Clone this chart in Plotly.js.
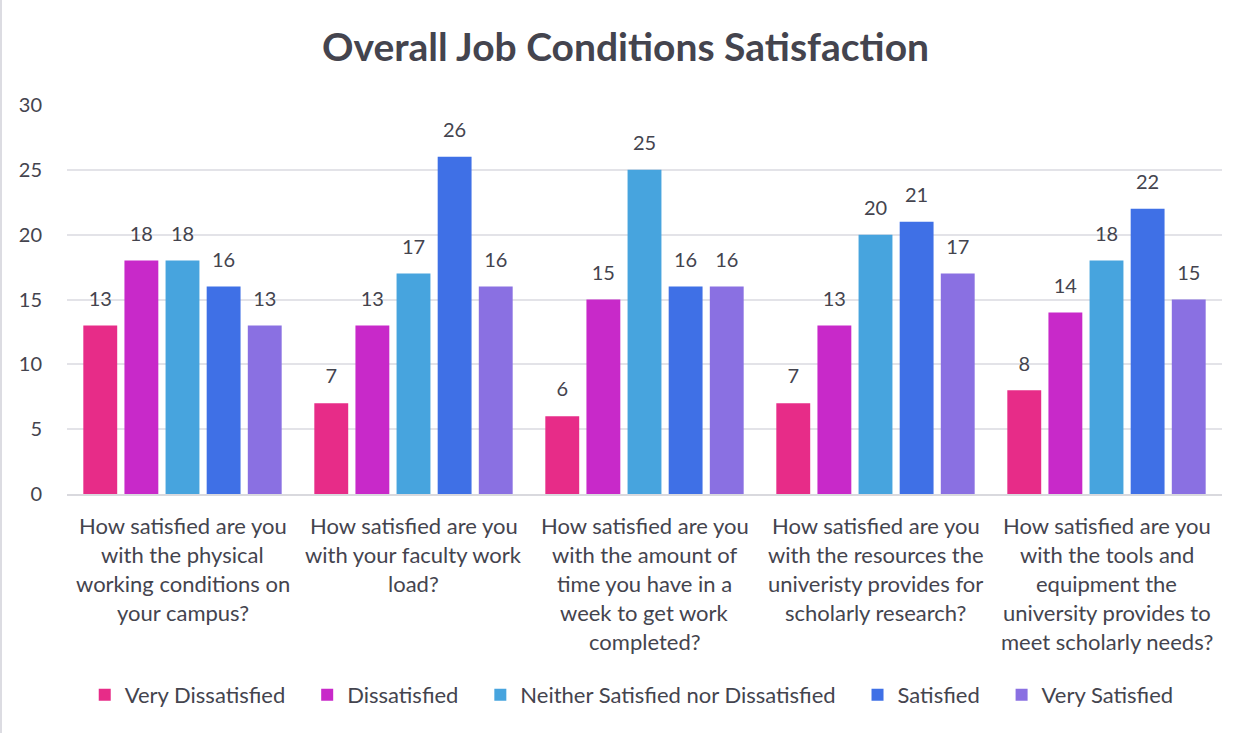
<!DOCTYPE html>
<html>
<head>
<meta charset="utf-8">
<script src="https://cdn.plot.ly/plotly-3.0.1.min.js"></script>
<style>
  html, body { margin: 0; padding: 0; background: #fff; }
  #chart { width: 1247px; height: 733px; box-sizing: border-box; border: 2px solid #dcdce2; border-top: none; }
</style>
</head>
<body>
<div id="chart"></div>
<script>
// ---- data ----
const categories = ["Q1", "Q2", "Q3", "Q4", "Q5"];
const categoryLabels = [
  ["How satisfied are you", "with the physical", "working conditions on", "your campus?"],
  ["How satisfied are you", "with your faculty work", "load?"],
  ["How satisfied are you", "with the amount of", "time you have in a", "week to get work", "completed?"],
  ["How satisfied are you", "with the resources the", "univeristy provides for", "scholarly research?"],
  ["How satisfied are you", "with the tools and", "equipment the", "university provides to", "meet scholarly needs?"]
];
const seriesNames = ["Very Dissatisfied", "Dissatisfied", "Neither Satisfied nor Dissatisfied", "Satisfied", "Very Satisfied"];
const veryDissatisfied = [13, 7, 6, 7, 8];
const dissatisfied     = [18, 13, 15, 13, 14];
const neither          = [18, 17, 25, 20, 18];
const satisfied        = [16, 26, 16, 21, 22];
const verySatisfied    = [13, 16, 16, 17, 15];
const seriesValues = [veryDissatisfied, dissatisfied, neither, satisfied, verySatisfied];
const seriesColors = ["#E72C88", "#C829C9", "#47A4DE", "#3F70E6", "#8A70E2"];

const FONT = "Lato, 'Open Sans', sans-serif";
const TXT = "#44444e";
const PAD = "\u00a0\u00a0\u00a0";

const traces = [];
seriesNames.forEach((name, i) => {
  traces.push({
    type: "bar",
    name: name + (i < seriesNames.length - 1 ? PAD : ""),
    x: categories,
    y: seriesValues[i],
    marker: { color: seriesColors[i] },
    hoverinfo: "y"
  });
});
// data labels via grouped text-only scatter traces aligned with the bars
seriesNames.forEach((name, i) => {
  traces.push({
    type: "scatter",
    mode: "markers+text",
    x: categories,
    y: seriesValues[i],
    text: seriesValues[i].map(String),
    textposition: "top center",
    textfont: { family: FONT, size: 20, color: TXT },
    marker: { size: 22, opacity: 0, color: seriesColors[i] },
    showlegend: false,
    hoverinfo: "skip",
    cliponaxis: false
  });
});

const annotations = [];
categoryLabels.forEach((lines, ci) => {
  lines.forEach((line, li) => {
    annotations.push({
      x: categories[ci], xref: "x",
      y: 0, yref: "paper",
      yshift: -31 - 29 * li,
      yanchor: "middle",
      xanchor: "center",
      text: line,
      showarrow: false,
      font: { family: FONT, size: 22, color: TXT }
    });
  });
});

const layout = {
  width: 1247, height: 733,
  paper_bgcolor: "#ffffff", plot_bgcolor: "#ffffff",
  margin: { l: 65, r: 27, t: 105, b: 239 },
  title: {
    text: "<b>Overall Job Conditions Satisfaction</b>",
    font: { family: FONT, size: 39, color: TXT },
    x: 0.5, xanchor: "center", y: 0.935, yanchor: "middle", yref: "container"
  },
  barmode: "group",
  bargap: 0.11,
  bargroupgap: 0.176,
  scattermode: "group",
  scattergap: 0.11,
  xaxis: {
    type: "category",
    showticklabels: false,
    showgrid: false,
    showline: true, linecolor: "#d9d9de", linewidth: 2,
    ticks: "",
    zeroline: false
  },
  yaxis: {
    range: [0, 30], dtick: 5,
    showgrid: true, gridcolor: "#e3e3e8", gridwidth: 2,
    zeroline: false,
    tickfont: { family: FONT, size: 20, color: TXT },
    ticks: "outside", ticklen: 20, tickcolor: "rgba(0,0,0,0)",
    showline: false
  },
  showlegend: true,
  legend: {
    orientation: "h",
    x: 0.505, xanchor: "center", xref: "container",
    y: 0.052, yanchor: "middle", yref: "container",
    font: { family: FONT, size: 22, color: TXT },
    itemwidth: 30,
    traceorder: "normal"
  },
  annotations: annotations
};

Plotly.newPlot("chart", traces, layout, { displayModeBar: false, staticPlot: true });
</script>
</body>
</html>
